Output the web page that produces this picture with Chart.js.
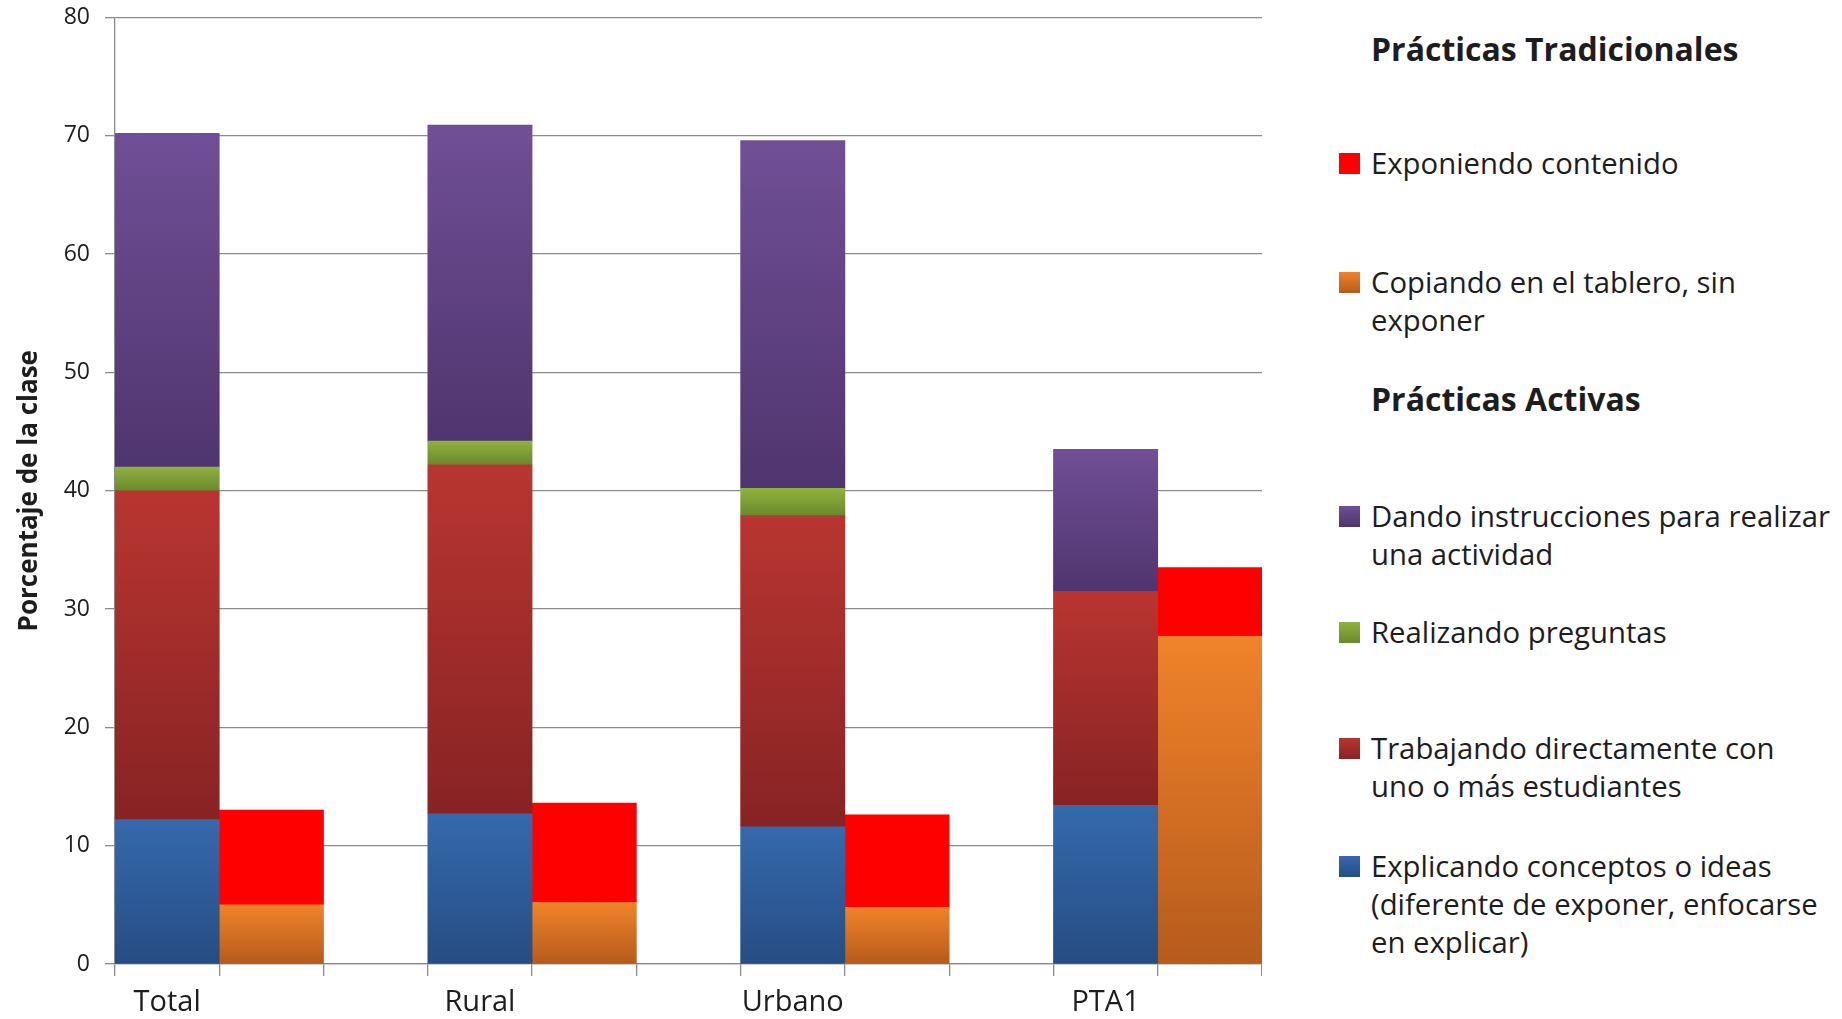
<!DOCTYPE html>
<html>
<head>
<meta charset="utf-8">
<script src="https://cdn.jsdelivr.net/npm/chart.js@4"></script>
<style>
  body { margin: 0; background: #fff; }
  #wrap { position: absolute; left: 0; top: 0; width: 1262px; height: 1019px; }
  #legend { position: absolute; left: 1339px; top: 0; width: 503px; font-family: "Open Sans", sans-serif; color: #1d1d1d; }
  .item { position: absolute; left: 0; font-size: 29.3px; line-height: 38px; white-space: pre; }
  .item .box { position: absolute; left: 0; top: 9px; width: 21px; height: 21px; }
  .item .txt { position: absolute; left: 32px; top: 0; }
  .head { position: absolute; left: 32px; font-size: 32px; font-weight: bold; line-height: 38px; white-space: pre; }
</style>
</head>
<body>
<div id="wrap"><canvas id="chart"></canvas></div>
<div id="legend"></div>
<script>
const groups = ['Total', 'Rural', 'Urbano', 'PTA1'];

// practicas activas
const explicando = [12.2, 12.7, 11.6, 13.4];
const trabajando = [27.8, 29.5, 26.3, 18.1];
const realizando = [2.0, 2.0, 2.3, 0];
const dando = [28.2, 26.7, 29.4, 12.0];
// practicas tradicionales
const copiando = [5.0, 5.2, 4.8, 27.7];
const exponiendo = [8.0, 8.4, 7.8, 5.8];

const yTicks = [0, 10, 20, 30, 40, 50, 60, 70, 80];

// each group = active bar, traditional bar, empty gap
const slots = [];
groups.forEach((g, i) => { slots.push(g, ''); if (i < groups.length - 1) slots.push(''); });

function spread(values, offset) {
  const out = slots.map(() => null);
  values.forEach((v, i) => { out[i * 3 + offset] = v; });
  return out;
}

function grad(top, bottom) {
  return function (c) {
    if (c.type !== 'data') return top;
    const chart = c.chart, y = chart.scales.y;
    const v = c.dataset.data[c.dataIndex];
    if (!y || v == null) return top;
    let base = 0;
    for (let d = 0; d < c.datasetIndex; d++) {
      const o = chart.data.datasets[d].data[c.dataIndex];
      if (o != null) base += o;
    }
    const y0 = y.getPixelForValue(base + v), y1 = y.getPixelForValue(base);
    if (!isFinite(y0) || !isFinite(y1) || y0 === y1) return top;
    const g = chart.ctx.createLinearGradient(0, y0, 0, y1);
    g.addColorStop(0, top);
    g.addColorStop(1, bottom);
    return g;
  };
}

const series = [
  { label: 'Explicando conceptos o ideas\n(diferente de exponer, enfocarse\nen explicar)', data: explicando, off: 0, top: '#3569ad', bottom: '#264d83' },
  { label: 'Trabajando directamente con\nuno o más estudiantes', data: trabajando, off: 0, top: '#b93531', bottom: '#872323' },
  { label: 'Realizando preguntas', data: realizando, off: 0, top: '#8fb23f', bottom: '#6a892d' },
  { label: 'Dando instrucciones para realizar\nuna actividad', data: dando, off: 0, top: '#704f96', bottom: '#4f356f' },
  { label: 'Copiando en el tablero, sin\nexponer', data: copiando, off: 1, top: '#f0832a', bottom: '#b65b1c' },
  { label: 'Exponiendo contenido', data: exponiendo, off: 1, top: '#ff0000', bottom: '#ff0000' }
];

const ctx = document.getElementById('chart');

const chart = new Chart(ctx, {
  type: 'bar',
  data: {
    labels: slots,
    datasets: series.map(s => ({
      label: s.label,
      data: spread(s.data, s.off),
      backgroundColor: grad(s.top, s.bottom),
      borderWidth: 0,
      categoryPercentage: 1,
      barPercentage: 1
    }))
  },
  options: {
    responsive: true,
    maintainAspectRatio: false,
    animation: false,
    layout: { padding: 0 },
    plugins: { legend: { display: false }, tooltip: { enabled: false } },
    scales: {
      x: {
        stacked: true,
        afterFit: s => { s.height = 55; },
        grid: { drawOnChartArea: false, drawTicks: true, tickLength: 12, offset: true, color: '#8c8c8c', lineWidth: 1.3 },
        border: { display: true, color: '#8c8c8c', width: 1.3 },
        ticks: { autoSkip: false, maxRotation: 0, padding: 9, color: '#1d1d1d', font: { family: 'Open Sans', size: 29 } }
      },
      y: {
        stacked: true,
        min: 0,
        max: 80,
        afterFit: s => { s.width = 115; s.paddingTop = 17.5; s.paddingBottom = 10; },
        afterBuildTicks: s => { s.ticks = yTicks.map(v => ({ value: v })); },
        grid: { color: '#8c8c8c', lineWidth: 1.3, tickLength: 10 },
        border: { display: true, color: '#8c8c8c', width: 1.3 },
        ticks: { padding: 15, color: '#1d1d1d', font: { family: 'Open Sans', size: 23 } },
        title: {
          display: true,
          text: 'Porcentaje de la clase',
          color: '#1d1d1d',
          padding: { top: 14, bottom: 0 },
          font: { family: 'Open Sans', size: 26, weight: 'bold' }
        }
      }
    }
  }
});
chart.update();

// legend on the right, with the two section headings
const legendRows = [
  { head: 'Prácticas Tradicionales', y: 49 },
  { s: 5, y: 163 },
  { s: 4, y: 282 },
  { head: 'Prácticas Activas', y: 399 },
  { s: 3, y: 516 },
  { s: 2, y: 632 },
  { s: 1, y: 748 },
  { s: 0, y: 866 }
];
const legend = document.getElementById('legend');
legendRows.forEach(r => {
  const el = document.createElement('div');
  if (r.head) {
    el.className = 'head';
    el.textContent = r.head;
  } else {
    const s = series[r.s];
    el.className = 'item';
    const box = document.createElement('span');
    box.className = 'box';
    box.style.background = 'linear-gradient(' + s.top + ',' + s.bottom + ')';
    const txt = document.createElement('span');
    txt.className = 'txt';
    txt.textContent = s.label;
    el.appendChild(box);
    el.appendChild(txt);
  }
  el.style.top = (r.y - 19) + 'px';
  legend.appendChild(el);
});
</script>
</body>
</html>
